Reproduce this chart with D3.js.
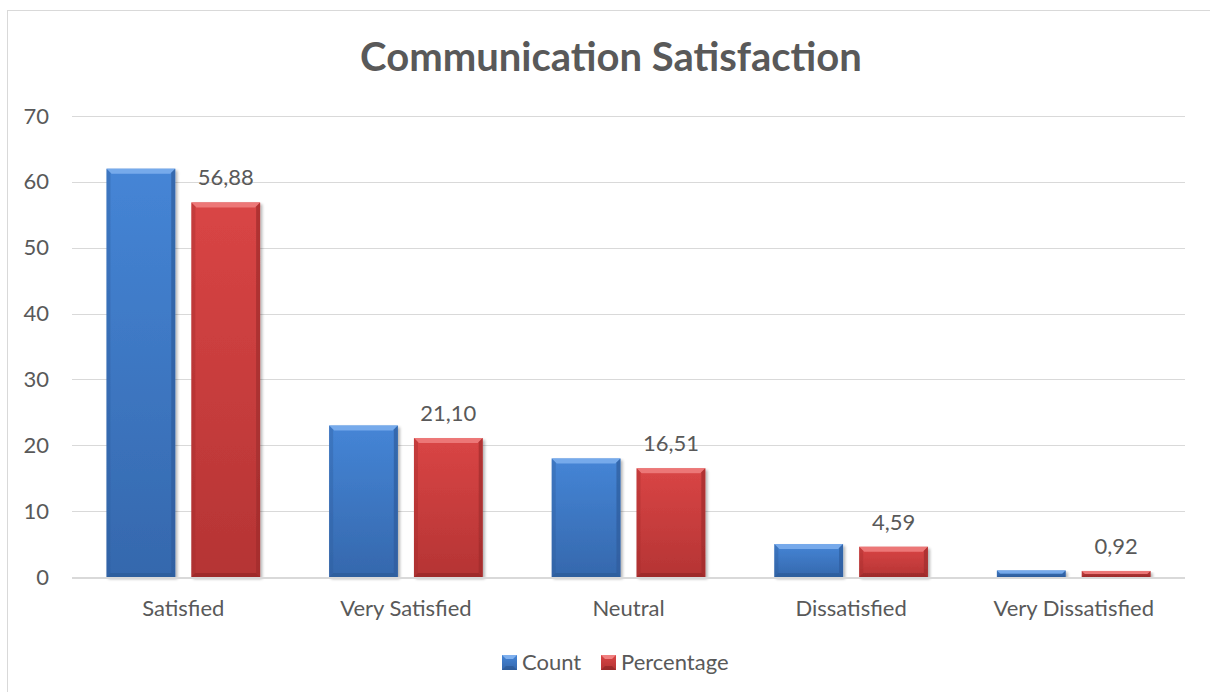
<!DOCTYPE html>
<html>
<head>
<meta charset="utf-8">
<script src="https://cdn.jsdelivr.net/npm/d3@7"></script>
<style>
  body { margin: 0; background: #fff; }
  text { font-family: Lato, "Open Sans", sans-serif; fill: #595959; }
</style>
</head>
<body>
<div class="chart"></div>
<script>
// chart data
var categories = ["Satisfied", "Very Satisfied", "Neutral", "Dissatisfied", "Very Dissatisfied"];
var seriesNames = ["Count", "Percentage"];
var countValues = [62, 23, 18, 5, 1];
var percentValues = [56.88, 21.10, 16.51, 4.59, 0.92];
var yTicks = [0, 10, 20, 30, 40, 50, 60, 70];

var svgWidth = 1210;
var svgHeight = 692;

var margin = { top: 116, bottom: 115, right: 25, left: 72 };
var width = svgWidth - margin.left - margin.right;
var height = svgHeight - margin.top - margin.bottom;

var svg = d3.select(".chart")
  .append("svg")
  .attr("width", svgWidth)
  .attr("height", svgHeight);

var defs = svg.append("defs");

var palette = {
  Count: { top: "#4585d6", bottom: "#3568ad", light: "#7fb0ee", dark: "#254f88", side: "#2d5c9c" },
  Percentage: { top: "#d94545", bottom: "#b53434", light: "#f08080", dark: "#7e2020", side: "#a02c2c" }
};

seriesNames.forEach(function(s) {
  var g = defs.append("linearGradient")
    .attr("id", "grad-" + s)
    .attr("x1", 0).attr("y1", 0).attr("x2", 0).attr("y2", 1);
  g.append("stop").attr("offset", "0%").attr("stop-color", palette[s].top);
  g.append("stop").attr("offset", "100%").attr("stop-color", palette[s].bottom);
});

var shadow = defs.append("filter").attr("id", "shadow")
  .attr("x", "-10%").attr("y", "-10%").attr("width", "130%").attr("height", "130%");
shadow.append("feGaussianBlur").attr("in", "SourceAlpha").attr("stdDeviation", 1.5);
shadow.append("feOffset").attr("dx", 1.5).attr("dy", 2).attr("result", "off");
shadow.append("feComponentTransfer").append("feFuncA").attr("type", "linear").attr("slope", 0.3);
var merge = shadow.append("feMerge");
merge.append("feMergeNode");
merge.append("feMergeNode").attr("in", "SourceGraphic");

// outer chart border
svg.append("rect")
  .attr("x", 7.5).attr("y", 10.5)
  .attr("width", svgWidth + 10).attr("height", svgHeight + 10)
  .attr("fill", "none").attr("stroke", "#d9d9d9").attr("stroke-width", 1);

// title
svg.append("text")
  .attr("x", 611)
  .attr("y", 71)
  .attr("text-anchor", "middle")
  .style("font-size", "40px")
  .style("font-weight", "bold")
  .text("Communication Satisfaction");

var chartGroup = svg.append("g")
  .attr("transform", `translate(${margin.left}, ${margin.top})`);

var x0 = d3.scaleBand()
  .domain(categories)
  .range([0, width])
  .paddingInner(0.31)
  .paddingOuter(0.155);

var x1 = d3.scaleBand()
  .domain(seriesNames)
  .range([0, x0.bandwidth()])
  .paddingInner(0.19);

var yLinearScale = d3.scaleLinear()
  .domain([0, 70])
  .range([height, 0]);

// gridlines
chartGroup.append("g")
  .selectAll("line")
  .data(yTicks.filter(d => d > 0))
  .enter()
  .append("line")
  .attr("x1", 0).attr("x2", width)
  .attr("y1", d => Math.round(yLinearScale(d)) + 0.5)
  .attr("y2", d => Math.round(yLinearScale(d)) + 0.5)
  .attr("stroke", "#d9d9d9")
  .attr("stroke-width", 1);

// y axis labels
var yAxis = d3.axisLeft(yLinearScale).tickValues(yTicks).tickSize(0).tickPadding(23);
chartGroup.append("g")
  .call(yAxis)
  .call(g => g.select(".domain").remove())
  .selectAll("text")
  .style("font-size", "22px")
  .style("fill", "#595959")
  .attr("font-family", null);

// x axis labels
var xAxis = d3.axisBottom(x0).tickSize(0).tickPadding(23);
chartGroup.append("g")
  .attr("transform", `translate(0, ${height})`)
  .call(xAxis)
  .call(g => g.select(".domain").remove())
  .selectAll("text")
  .style("font-size", "22px")
  .style("fill", "#595959")
  .attr("font-family", null);

// bar data
var barData = [];
categories.forEach(function(c, i) {
  barData.push({ cat: c, series: "Count", value: countValues[i] });
  barData.push({ cat: c, series: "Percentage", value: percentValues[i] });
});

var barGroups = chartGroup.selectAll(".bar")
  .data(barData)
  .enter()
  .append("g")
  .attr("class", "bar")
  .attr("filter", "url(#shadow)");

function geom(d) {
  var bx = x0(d.cat) + x1(d.series);
  var bw = x1.bandwidth();
  var by = yLinearScale(d.value);
  var bh = height - by;
  return { x: bx, y: by, w: bw, h: bh };
}

barGroups.append("rect")
  .attr("x", d => geom(d).x)
  .attr("y", d => geom(d).y)
  .attr("width", d => geom(d).w)
  .attr("height", d => geom(d).h)
  .attr("fill", d => "url(#grad-" + d.series + ")");

// bevel: top light, sides and bottom darker
barGroups.append("path")
  .attr("d", function(d) {
    var g = geom(d), b = Math.min(5, g.h / 2);
    return `M${g.x},${g.y} L${g.x + g.w},${g.y} L${g.x + g.w - b},${g.y + b} L${g.x + b},${g.y + b} Z`;
  })
  .attr("fill", d => palette[d.series].light)
  .attr("opacity", 0.85);

barGroups.append("path")
  .attr("d", function(d) {
    var g = geom(d), b = Math.min(4, g.h / 2);
    return `M${g.x + g.w},${g.y} L${g.x + g.w},${g.y + g.h} L${g.x + g.w - b},${g.y + g.h - b} L${g.x + g.w - b},${g.y + b} Z`;
  })
  .attr("fill", d => palette[d.series].side)
  .attr("opacity", 0.7);

barGroups.append("path")
  .attr("d", function(d) {
    var g = geom(d), b = Math.min(4, g.h / 2);
    return `M${g.x},${g.y} L${g.x + b},${g.y + b} L${g.x + b},${g.y + g.h - b} L${g.x},${g.y + g.h} Z`;
  })
  .attr("fill", d => palette[d.series].side)
  .attr("opacity", 0.35);

barGroups.append("path")
  .attr("d", function(d) {
    var g = geom(d), b = Math.min(4, g.h / 2);
    return `M${g.x},${g.y + g.h} L${g.x + b},${g.y + g.h - b} L${g.x + g.w - b},${g.y + g.h - b} L${g.x + g.w},${g.y + g.h} Z`;
  })
  .attr("fill", d => palette[d.series].dark)
  .attr("opacity", 0.4);

// baseline
chartGroup.append("line")
  .attr("x1", 0).attr("x2", width)
  .attr("y1", height + 1).attr("y2", height + 1)
  .attr("stroke", "#d9d9d9")
  .attr("stroke-width", 2);

// data labels on percentage bars
chartGroup.selectAll(".label")
  .data(barData.filter(d => d.series === "Percentage"))
  .enter()
  .append("text")
  .attr("class", "label")
  .attr("x", d => geom(d).x + geom(d).w / 2)
  .attr("y", d => geom(d).y - 17)
  .attr("text-anchor", "middle")
  .style("font-size", "22px")
  .text(d => d.value.toFixed(2).replace(".", ","));

// legend
var legendItems = [
  { name: "Count", x: 502 },
  { name: "Percentage", x: 601 }
];
var legend = svg.append("g");
legendItems.forEach(function(it) {
  var gi = legend.append("g").attr("transform", `translate(${it.x}, 655)`);
  gi.append("rect").attr("width", 15).attr("height", 15)
    .attr("fill", "url(#grad-" + it.name + ")");
  gi.append("path").attr("d", "M0,0 L15,0 L11,4 L4,4 Z").attr("fill", palette[it.name].light);
  gi.append("path").attr("d", "M0,15 L15,15 L11,11 L4,11 Z").attr("fill", palette[it.name].dark).attr("opacity", 0.5);
  gi.append("text").attr("x", 20).attr("y", 15)
    .style("font-size", "22px")
    .text(it.name);
});
</script>
</body>
</html>
